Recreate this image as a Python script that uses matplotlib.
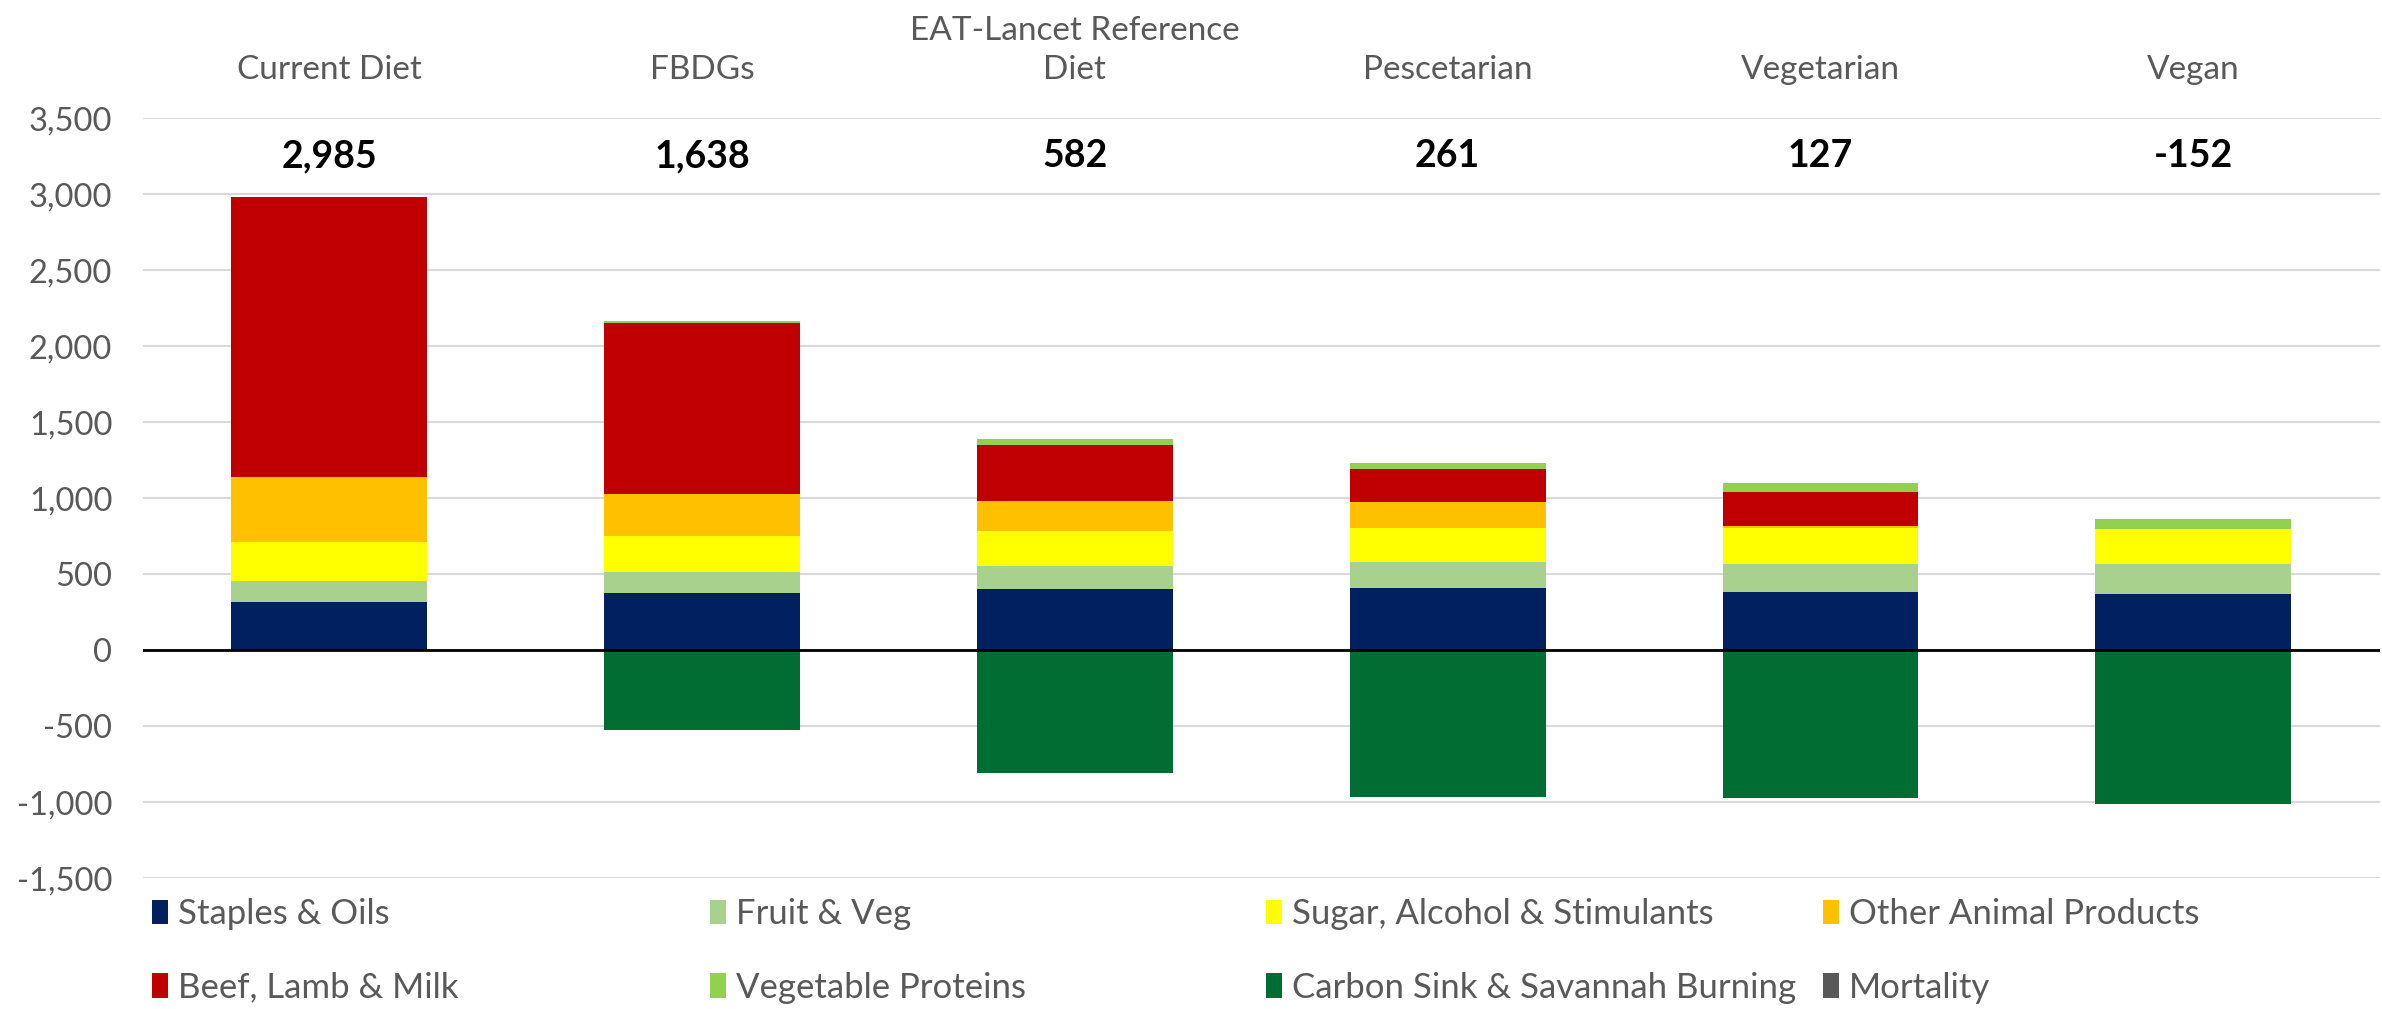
import matplotlib
matplotlib.use("Agg")
import matplotlib.pyplot as plt
from matplotlib.ticker import FuncFormatter
import numpy as np

categories = ["Current Diet", "FBDGs", "EAT-Lancet Reference\nDiet",
              "Pescetarian", "Vegetarian", "Vegan"]
net_totals = [2985, 1638, 582, 261, 127, -152]

staples_oils = [318, 377, 403, 412, 385, 368]
fruit_veg = [137, 140, 152, 166, 184, 201]
sugar_alcohol = [257, 236, 227, 228, 237, 228]
other_animal = [426, 277, 199, 166, 14, 0]
beef_lamb_milk = [1842, 1121, 368, 219, 219, 0]
veg_proteins = [5, 15, 40, 38, 59, 64]
carbon_sink = [0, -528, -807, -968, -971, -1013]
mortality = [0, 0, 0, 0, 0, 0]

pos_series = [
    ("Staples & Oils", staples_oils, "#002060"),
    ("Fruit & Veg", fruit_veg, "#A9D18E"),
    ("Sugar, Alcohol & Stimulants", sugar_alcohol, "#FFFF00"),
    ("Other Animal Products", other_animal, "#FFC000"),
    ("Beef, Lamb & Milk", beef_lamb_milk, "#C00000"),
    ("Vegetable Proteins", veg_proteins, "#92D050"),
]
neg_series = [
    ("Carbon Sink & Savannah Burning", carbon_sink, "#006E33"),
    ("Mortality", mortality, "#595959"),
]

FONT = "Lato"
GREY = "#595959"

fig = plt.figure(figsize=(23.82, 10.09), dpi=100)
ax = fig.add_axes([0.060, 0.1298, 0.939, 0.7528])

x = np.arange(len(categories))
width = 0.525
handles = {}
bottom = np.zeros(len(categories))
for name, vals, col in pos_series:
    v = np.array(vals, dtype=float)
    b = ax.bar(x, v, width, bottom=bottom, color=col, label=name, zorder=2)
    handles[name] = b
    bottom += v
nbottom = np.zeros(len(categories))
for name, vals, col in neg_series:
    v = np.array(vals, dtype=float)
    b = ax.bar(x, v, width, bottom=nbottom, color=col, label=name, zorder=2)
    handles[name] = b
    nbottom += v

ax.axhline(0, color="black", lw=2, zorder=3)

ax.set_xlim(-0.5, len(categories) - 0.5)
ax.set_ylim(-1500, 3500)
ax.set_yticks(np.arange(-1500, 3501, 500))
ax.yaxis.set_major_formatter(FuncFormatter(lambda v, p: f"{int(v):,}"))
ax.grid(axis="y", color="#D9D9D9", lw=1.5, zorder=0)
ax.set_axisbelow(True)
for s in ax.spines.values():
    s.set_visible(False)

ax.xaxis.tick_top()
ax.set_xticks(x)
ax.set_xticklabels(categories, fontfamily=FONT, fontsize=24, color=GREY,
                   linespacing=1.4)
ax.tick_params(axis="x", length=0, pad=24)
ax.tick_params(axis="y", length=0, pad=22, labelsize=23.5, labelcolor=GREY)
for t in ax.get_yticklabels():
    t.set_fontfamily(FONT)

for xi, tot in zip(x, net_totals):
    ax.text(xi, 3250, f"{tot:,}", ha="center", va="center",
            fontfamily=FONT, fontweight="bold", fontsize=27, color="black")

# legend: four columns, two rows (row-major order as in the reference)
order = [
    ["Staples & Oils", "Beef, Lamb & Milk"],
    ["Fruit & Veg", "Vegetable Proteins"],
    ["Sugar, Alcohol & Stimulants", "Carbon Sink & Savannah Burning"],
    ["Other Animal Products", "Mortality"],
]
col_x = [152, 710, 1266, 1823]
for cx, names in zip(col_x, order):
    leg = fig.legend([handles[n] for n in names], names, loc="upper left",
                     bbox_to_anchor=(cx / 2382, 1 - 898 / 1009),
                     frameon=False, ncol=1, handlelength=0.45,
                     handleheight=0.7, handletextpad=0.3, labelspacing=1.2,
                     borderpad=0, borderaxespad=0,
                     prop={"family": FONT, "size": 25})
    for t in leg.get_texts():
        t.set_color(GREY)

fig.savefig("out.png", dpi=100)
